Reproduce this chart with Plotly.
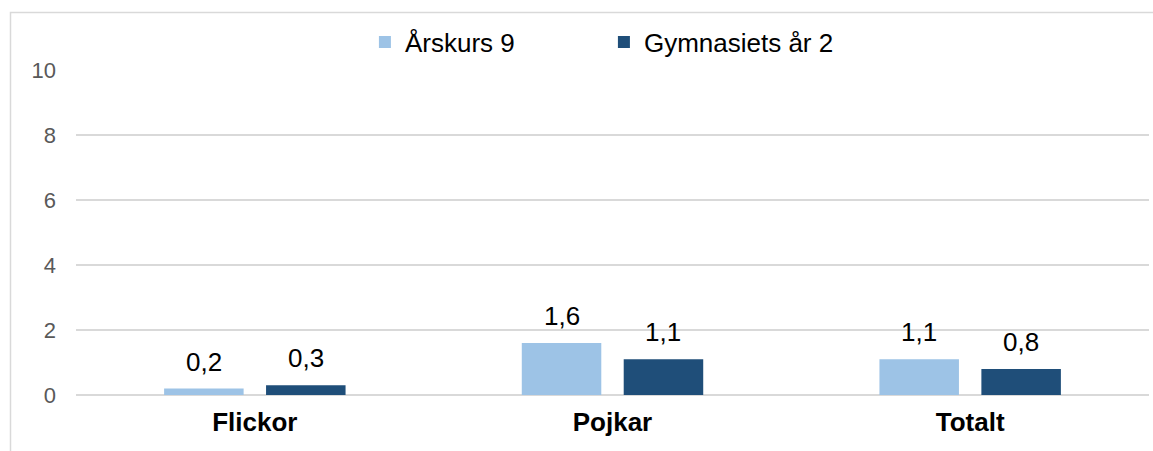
import plotly.graph_objects as go

categories = ["Flickor", "Pojkar", "Totalt"]
series_names = ["Årskurs 9", "Gymnasiets år 2"]
arskurs9 = [0.2, 1.6, 1.1]
gymnasiet2 = [0.3, 1.1, 0.8]
y_ticks = [0, 2, 4, 6, 8, 10]

colors = ["#9DC3E6", "#1F4E79"]
FONT = "Liberation Sans, Arial, sans-serif"

W, H = 1153, 451
ml, mr, mt, mb = 76, 4, 70, 56
pw, ph = W - ml - mr, H - mt - mb
BARGAP, GROUPGAP = 0.43, 0.22
slot = pw / len(categories) * (1 - BARGAP) / 2

fig = go.Figure()
for i, (name, vals, col) in enumerate(zip(series_names, [arskurs9, gymnasiet2], colors)):
    fig.add_trace(go.Bar(
        x=categories, y=vals, name=name,
        marker=dict(color=col, line=dict(width=0)),
    ))
    shift = (i - 0.5) * slot
    for c, v in zip(categories, vals):
        fig.add_annotation(x=c, y=v, xref="x", yref="y",
                           text=f"{v:.1f}".replace(".", ","),
                           showarrow=False, xanchor="center", yanchor="bottom",
                           xshift=shift, yshift=10,
                           font=dict(size=26, color="#000000", family=FONT))

# outer frame (top and left edges visible)
fx = (10.5 - ml) / pw
fy = (H - mb - 12.5) / ph
fig.add_shape(type="path", xref="paper", yref="paper",
              path=f"M {fx} -0.3 L {fx} {fy} L 1.2 {fy}",
              line=dict(color="#D9D9D9", width=1.5))

fig.update_layout(
    width=W, height=H,
    margin=dict(l=ml, r=mr, t=mt, b=mb),
    paper_bgcolor="white", plot_bgcolor="white",
    separators=",.",
    barmode="group", bargap=BARGAP, bargroupgap=GROUPGAP,
    font=dict(family=FONT, color="#000000"),
    legend=dict(orientation="h", x=0.492, xanchor="center", y=1.086, yanchor="middle",
                entrywidth=194,
                font=dict(size=26, color="#000000", family=FONT),
                bgcolor="rgba(0,0,0,0)"),
    xaxis=dict(showgrid=False, showline=False, ticks="", ticklabelstandoff=9,
               tickfont=dict(size=26, color="#000000", family=FONT),
               tickprefix="<b>", ticksuffix="</b>"),
    yaxis=dict(range=[0, 10], tickvals=y_ticks, showgrid=True, gridcolor="#D9D9D9",
               gridwidth=1.5, zeroline=True, zerolinecolor="#D9D9D9", zerolinewidth=1.5,
               showline=False, ticks="", ticklabelstandoff=19,
               tickfont=dict(size=22, color="#595959", family=FONT)),
    showlegend=True,
)

fig.write_html("out.html", config={"displayModeBar": False},
               post_script="document.body.style.margin='0';")
